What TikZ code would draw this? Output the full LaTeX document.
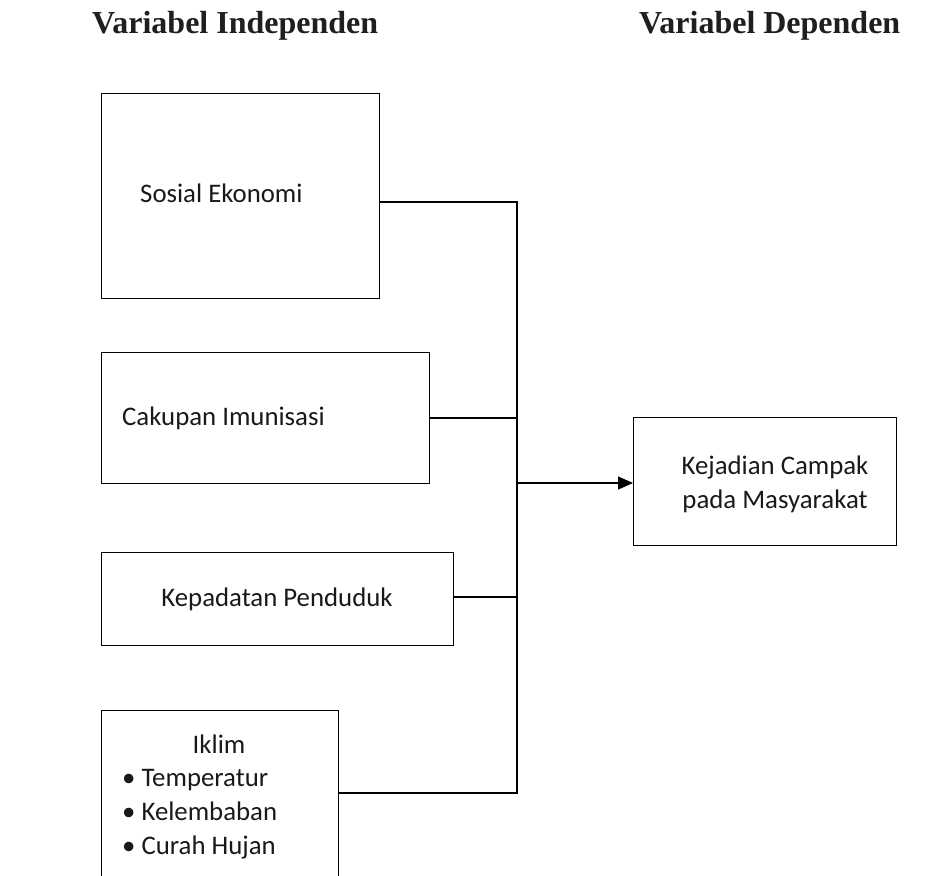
\documentclass[tikz,border=0pt]{standalone}
\usepackage{fontspec}
\setmainfont{Carlito}
\newfontfamily\hdrfont{Liberation Serif}
\usetikzlibrary{arrows.meta}
\begin{document}
\begin{tikzpicture}[x=1pt,y=-1pt,
  boxsty/.style={draw=black,line width=1.3pt,rectangle,inner sep=0pt,anchor=north west},
  txt/.style={inner sep=0pt,font=\fontsize{26.8}{33}\selectfont,text=black!90},
  hdr/.style={inner sep=0pt,font=\hdrfont\bfseries\fontsize{32}{36}\selectfont,text=black!88},
  wire/.style={line width=1.3pt,draw=black}]
\useasboundingbox (0,0) rectangle (947,875);
% headers
\node[hdr,anchor=base west] (h1) at (92,34) {Variabel Independen};
\node[hdr,anchor=base west] (h2) at (639,34) {Variabel Dependen};
% boxes
\node[boxsty,minimum width=278pt,minimum height=205pt] (b1) at (101,93) {};
\node[boxsty,minimum width=328pt,minimum height=131pt] (b2) at (101,352) {};
\node[boxsty,minimum width=352pt,minimum height=93pt] (b3) at (101,552) {};
\node[boxsty,minimum width=237pt,minimum height=200pt] (b4) at (101,710) {};
\node[boxsty,minimum width=263pt,minimum height=128pt] (k) at (633,417) {};
% texts
\node[txt,anchor=base west] (t1) at (140,202) {Sosial Ekonomi};
\node[txt,anchor=base west] (t2) at (122,425) {Cakupan Imunisasi};
\node[txt,anchor=base] (t3) at (277,606) {Kepadatan Penduduk};
\node[txt,anchor=base] (t4) at (219,753) {Iklim};
\node[txt,anchor=base west] (t5) at (122,786) {•\hspace{6pt}Temperatur};
\node[txt,anchor=base west] (t6) at (122,820) {•\hspace{6pt}Kelembaban};
\node[txt,anchor=base west] (t7) at (122,854) {•\hspace{6pt}Curah Hujan};
\node[txt,anchor=base] (t8a) at (775,474) {Kejadian Campak};
\node[txt,anchor=base] (t8b) at (775,508) {pada Masyarakat};
% junctions
\coordinate (j1) at (517,202);
\coordinate (j2) at (517,418);
\coordinate (ja) at (517,483);
\coordinate (j3) at (517,597);
\coordinate (j4) at (517,793);
% connectors
\draw[wire] (b1.east |- j1) -- (j1) -- (j4) -- (b4.east |- j4);
\draw[wire] (b2.east |- j2) -- (j2);
\draw[wire] (b3.east |- j3) -- (j3);
\draw[wire,-{Triangle[length=15pt,width=13pt]}] (ja) -- (k.west |- ja);
\end{tikzpicture}
\end{document}
